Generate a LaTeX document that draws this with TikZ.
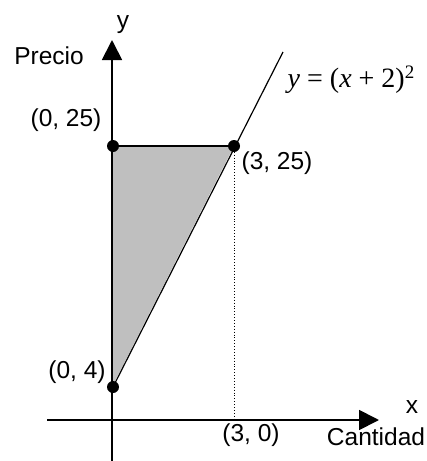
\documentclass[tikz,border=0pt]{standalone}
\usepackage{fontspec}
\setmainfont{Liberation Sans}
\newfontfamily\serifit{Liberation Serif}
\usetikzlibrary{arrows.meta}
\begin{document}
\begin{tikzpicture}[x=1pt,y=-1pt,
  lbl/.style={inner sep=0pt,font=\fontsize{24.5}{26}\selectfont},
  pt/.style={circle,fill=black,inner sep=0pt,minimum size=12pt},
  axis/.style={line width=1.8pt,-{Triangle[length=20pt,width=20pt]}}]
\useasboundingbox (0,0) rectangle (427,461);
\coordinate (yb) at (112,461);
\coordinate (yt) at (112,40);
\coordinate (xl) at (47,420);
\coordinate (xr) at (379,420);
\coordinate (ce) at (283,52);
\coordinate (xf) at (234,420);
\fill[fill=black!25] (112,146) -- (234,146) -- (112,387) -- cycle;
\draw[axis] (yb) -- (yt);
\draw[axis] (xl) -- (xr);
\node[pt] (p25) at (113,146) {};
\node[pt] (q25) at (234,146) {};
\node[pt] (p4) at (113,387) {};
\draw[line width=1.4pt] (p25.center) -- (q25.center);
\draw[line width=1.2pt] (p4.center) -- (ce);
\draw[line width=0.9pt,dotted] (q25.center) -- (xf);
\node[lbl] (ly) at (123,25) {y};
\node[lbl] (lp) at (49,56) {Precio};
\node[lbl] (lf) at (351,80) {\serifit\fontsize{28}{30}\selectfont\textit{y} = (\textit{x} + 2)\raisebox{9pt}{\fontsize{19}{20}\selectfont 2}};
\node[lbl] (l025) at (66,120) {(0, 25)};
\node[lbl] (l325) at (277,163) {(3, 25)};
\node[lbl] (l04) at (77,372) {(0, 4)};
\node[lbl] (lx) at (412,407) {x};
\node[lbl] (l30) at (251,435) {(3, 0)};
\node[lbl] (lc) at (376,437) {Cantidad};
\end{tikzpicture}
\end{document}
